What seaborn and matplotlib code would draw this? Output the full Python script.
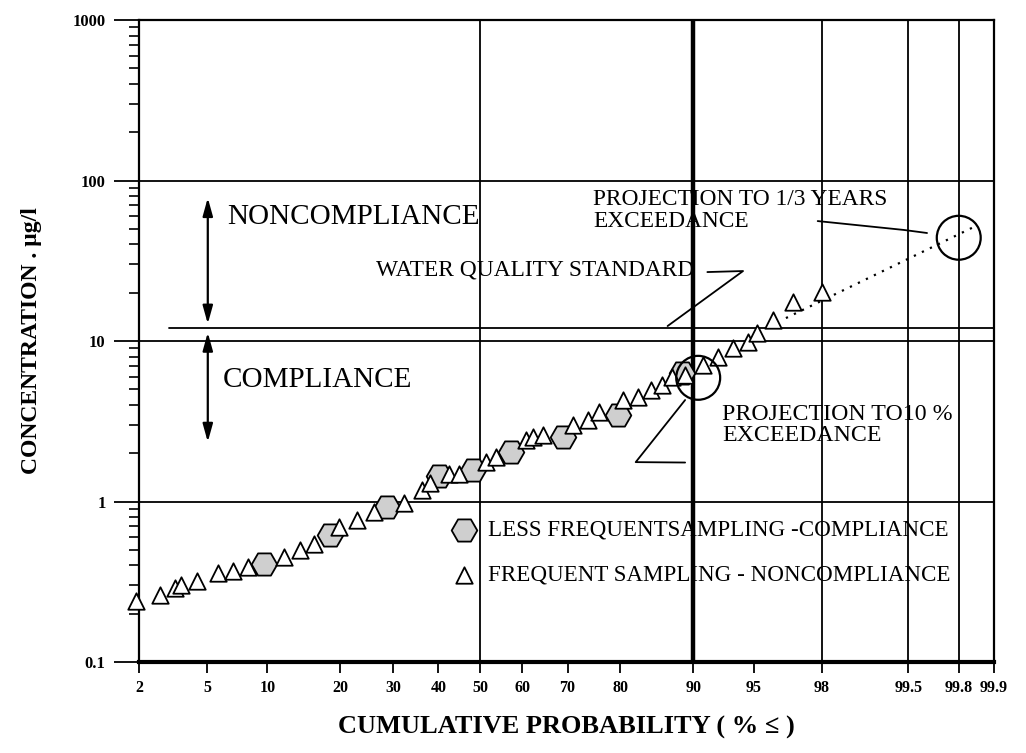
import numpy as np
import matplotlib
matplotlib.use("Agg")
import matplotlib.pyplot as plt
import seaborn as sns
from math import erf, sqrt

# ---------------- data ----------------
freq_p = [1.9, 2.7, 3.3, 3.6, 4.4, 5.7, 6.8, 8.1, 11.9, 13.9, 15.9, 19.8, 22.9, 26.1,
          32.4, 36.2, 38.0, 42.4, 44.8, 51.4, 53.8, 60.8, 62.4, 64.7, 71.1, 74.1, 76.2,
          80.4, 82.8, 84.7, 86.3, 87.6, 89.1, 91.0, 92.4, 93.6, 94.6, 95.2, 96.1, 97.0, 98.0]
freq_c = [0.24, 0.26, 0.29, 0.30, 0.32, 0.36, 0.37, 0.39, 0.45, 0.50, 0.54, 0.69, 0.77, 0.86,
          0.98, 1.18, 1.30, 1.48, 1.48, 1.76, 1.89, 2.42, 2.52, 2.60, 3.00, 3.22, 3.61,
          4.29, 4.48, 4.95, 5.32, 5.97, 6.14, 7.08, 7.94, 9.04, 9.86, 11.2, 13.5, 17.5, 20.2]
less_p = [9.7, 18.3, 28.7, 40.1, 48.3, 57.4, 69.0, 79.6, 88.8]
less_c = [0.41, 0.62, 0.92, 1.44, 1.57, 2.03, 2.52, 3.46, 6.3]
proj_p = [90.5, 99.8]          # projection circles (10 % exceedance, 1/3 years)
proj_c = [5.9, 44.0]
trend_p = [96.7, 99.85]        # dotted extrapolation
trend_c = [13.9, 51.3]
standard = 12.0
x_ticks = [2, 5, 10, 20, 30, 40, 50, 60, 70, 80, 90, 95, 98, 99.5, 99.8, 99.9]
x_ticklabels = ["2", "5", "10", "20", "30", "40", "50", "60", "70", "80", "90", "95", "98",
                "99.5", "99.8", "99.9"]
y_ticks = [0.1, 1, 10, 100, 1000]
y_ticklabels = ["0.1", "1", "10", "100", "1000"]

# ---------------- normal probability scale ----------------
_erf = np.vectorize(erf)

def _ppf(q):
    q = np.clip(np.asarray(q, dtype=float), 1e-9, 1 - 1e-9)
    a = [-3.969683028665376e+01, 2.209460984245205e+02, -2.759285104469687e+02,
         1.383577518672690e+02, -3.066479806614716e+01, 2.506628277459239e+00]
    b = [-5.447609879822406e+01, 1.615858368580409e+02, -1.556989798598866e+02,
         6.680131188771972e+01, -1.328068155288572e+01]
    c = [-7.784894002430293e-03, -3.223964580411365e-01, -2.400758277161838e+00,
         -2.549732539343734e+00, 4.374664141464968e+00, 2.938163982698783e+00]
    d = [7.784695709041462e-03, 3.224671290700398e-01, 2.445134137142996e+00,
         3.754408661907416e+00]
    plow = 0.02425
    out = np.empty_like(q)
    lo = q < plow
    hi = q > 1 - plow
    mid = ~(lo | hi)
    if lo.any():
        r = np.sqrt(-2 * np.log(q[lo]))
        out[lo] = (((((c[0]*r+c[1])*r+c[2])*r+c[3])*r+c[4])*r+c[5]) / \
                  ((((d[0]*r+d[1])*r+d[2])*r+d[3])*r+1)
    if hi.any():
        r = np.sqrt(-2 * np.log(1 - q[hi]))
        out[hi] = -(((((c[0]*r+c[1])*r+c[2])*r+c[3])*r+c[4])*r+c[5]) / \
                   ((((d[0]*r+d[1])*r+d[2])*r+d[3])*r+1)
    if mid.any():
        s = q[mid] - 0.5
        r = s * s
        out[mid] = (((((a[0]*r+a[1])*r+a[2])*r+a[3])*r+a[4])*r+a[5])*s / \
                   (((((b[0]*r+b[1])*r+b[2])*r+b[3])*r+b[4])*r+1)
    return out

def fwd(p):
    return _ppf(np.asarray(p, dtype=float) / 100.0)

def inv(z):
    return 50.0 * (1 + _erf(np.asarray(z, dtype=float) / sqrt(2)))

# ---------------- figure ----------------
sns.set_theme(style="white")
plt.rcParams["font.family"] = ["Liberation Serif", "DejaVu Serif"]
plt.rcParams["text.color"] = "black"
plt.rcParams["axes.labelcolor"] = "black"
plt.rcParams["xtick.color"] = "black"
plt.rcParams["ytick.color"] = "black"

fig = plt.figure(figsize=(10.26, 7.53), dpi=100)
ax = fig.add_axes([0.1355, 0.1208, 0.8333, 0.8526])
ax.set_xscale("function", functions=(fwd, inv))
ax.set_yscale("log")
ax.set_xlim(2, 99.9)
ax.set_ylim(0.1, 1000)

# grid / reference lines
for p in [50, 98, 99.5, 99.8]:
    ax.axvline(p, color="black", lw=1.3, zorder=1)
ax.axvline(90, color="black", lw=3.2, zorder=1)
for v in [1, 10, 100]:
    ax.axhline(v, color="black", lw=1.3, zorder=1)
ax.axhline(standard, xmin=0.035, color="black", lw=1.3, zorder=1)

for s in ["top", "right", "left"]:
    ax.spines[s].set_color("black")
    ax.spines[s].set_linewidth(1.6)
ax.spines["bottom"].set_color("black")
ax.spines["bottom"].set_linewidth(3)

# data points
sns.scatterplot(x=less_p, y=less_c, marker="H", s=340, color="#cfcfcf",
                edgecolor="black", linewidth=1.3, ax=ax, zorder=4,
                label="LESS FREQUENTSAMPLING -COMPLIANCE")
sns.scatterplot(x=freq_p, y=freq_c, marker="^", s=140, color="white",
                edgecolor="black", linewidth=1.3, ax=ax, zorder=5, clip_on=False,
                label="FREQUENT SAMPLING - NONCOMPLIANCE")
sns.scatterplot(x=proj_p, y=proj_c, marker="o", s=1000, color="none",
                edgecolor="black", linewidth=1.6, ax=ax, zorder=6)
sns.lineplot(x=trend_p, y=trend_c, color="black", lw=1.6, linestyle=(0, (1, 3)),
             ax=ax, zorder=3)

# ticks
ax.set_xticks(x_ticks)
ax.set_xticklabels(x_ticklabels, fontweight="bold", fontsize=11.5)
ax.xaxis.set_minor_locator(matplotlib.ticker.NullLocator())
ax.set_yticks(y_ticks)
ax.set_yticklabels(y_ticklabels, fontweight="bold", fontsize=12)
ax.yaxis.set_minor_locator(matplotlib.ticker.LogLocator(base=10, subs=np.arange(2, 10)))
ax.yaxis.set_minor_formatter(matplotlib.ticker.NullFormatter())
ax.tick_params(axis="x", which="major", direction="out", length=8, width=1.3,
               bottom=True, pad=5)
ax.tick_params(axis="y", which="major", direction="out", length=18, width=1.3,
               left=True, pad=6)
ax.tick_params(axis="y", which="minor", direction="out", length=7, width=1.2,
               left=True)

ax.set_xlabel("CUMULATIVE PROBABILITY ( % ≤ )", fontsize=19, fontweight="bold",
              labelpad=14)
ax.set_ylabel("CONCENTRATION . µg/l", fontsize=17, fontweight="bold", labelpad=22)

# annotations
arrow_kw = dict(arrowstyle="<|-|>,head_length=0.9,head_width=0.25", color="black",
                lw=1.6, shrinkA=0, shrinkB=0)
ax.annotate("", xy=(5.05, 78), xytext=(5.05, 12.8), arrowprops=arrow_kw)
ax.annotate("", xy=(5.05, 2.35), xytext=(5.05, 11.3), arrowprops=arrow_kw)
ax.text(6.4, 59.3, "NONCOMPLIANCE", fontsize=21, va="center", ha="left")
ax.text(6.05, 5.71, "COMPLIANCE", fontsize=21, va="center", ha="left")
ax.text(26.5, 27.7, "WATER QUALITY STANDARD", fontsize=16.8, va="center", ha="left")
ax.text(75.1, 65, "PROJECTION TO 1/3 YEARS\nEXCEEDANCE", fontsize=16.8,
        va="center", ha="left", linespacing=1.05)
ax.text(92.7, 3.0, "PROJECTION TO10 %\nEXCEEDANCE", fontsize=17.2,
        va="center", ha="left", linespacing=1.05)

lk = dict(color="black", lw=1.3, zorder=2)
ax.plot([91.4, 94.3, 87.0], [26.9, 27.3, 12.4], **lk)
ax.plot([89.1, 82.5, 89.1], [4.29, 1.76, 1.75], **lk)
ax.plot([97.88, 99.46, 99.64], [55.9, 49.2, 47.1], **lk)

leg = ax.legend(loc="upper left", bbox_to_anchor=(0.364, 0.222), frameon=False,
                fontsize=16.6, handlelength=1.2, handletextpad=0.45,
                labelspacing=1.05, borderpad=0, borderaxespad=0)

fig.savefig("out.png", dpi=100)
